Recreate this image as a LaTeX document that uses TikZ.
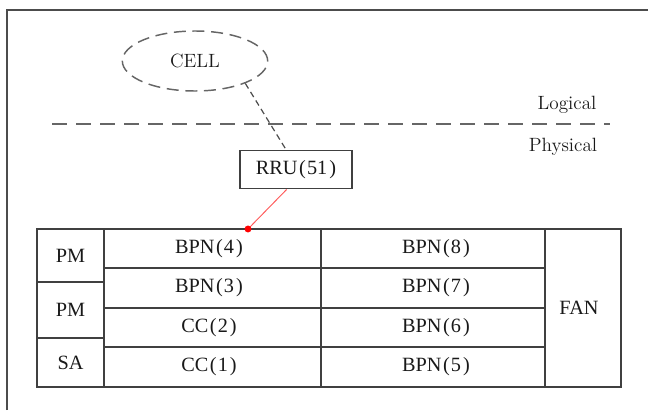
\documentclass[tikz,border=0pt]{standalone}
\usepackage{fontspec}
\newfontfamily\boxfont{Liberation Serif}
\usetikzlibrary{shapes.geometric}
\tikzset{
  frameline/.style={line width=1.1pt, color=black!70},
  gridline/.style={line width=0.9pt, color=black!75},
  celltext/.style={font=\boxfont\fontsize{15.2}{18}\selectfont, text=black!90},
  layertext/.style={font=\Large, text=black!90},
  linkdash/.style={dash pattern=on 4.5pt off 3pt, line width=0.9pt, color=black!70}
}
\newcommand{\unitname}[2]{#1\kern0.08em(\kern0.05em#2\kern0.1em)}

\begin{document}
\begin{tikzpicture}[x=0.75pt,y=-0.75pt]
		%%%%% START %%%%%
		\useasboundingbox (0,0) rectangle (648,410);
		\draw[frameline] (7,410) -- (7,10) -- (648,10);
		
		\node[ellipse, draw, dash pattern=on 9pt off 5pt, line width=1.1pt, color=black!60,
		      text=black!90, font=\Large, minimum width=109pt, minimum height=45pt] (cell) at (195,61) {CELL};
		
		\draw[dash pattern=on 11pt off 7pt, line width=1.3pt, color=black!60] (52,124) -- (610,124);
		\node[layertext] (logical) at (567,105) {Logical};
		\node[layertext] (physical) at (563,147) {Physical};
		
		\node[draw, rectangle, line width=0.9pt, color=black!75, celltext,
		      minimum width=84pt, minimum height=29pt] (rru) at (296,169.5) {\unitname{RRU}{51}};
		\coordinate (tap) at (248,229);
		
		\draw[linkdash] (cell.-24) -- ([xshift=-7.5pt]rru.north);
		
		%% shelf
		\draw[gridline] (37,229) rectangle (621,387);
		\draw[gridline] (104,229) -- (104,387);
		\draw[gridline] (321,229) -- (321,387);
		\draw[gridline] (545,229) -- (545,387);
		\foreach \y in {268,308,347}
			\draw[gridline] (104,\y) -- (545,\y);
		\draw[gridline] (37,282) -- (104,282);
		\draw[gridline] (37,338) -- (104,338);
		
		\node[celltext] (pm1) at (70.5,255.5) {PM};
		\node[celltext] (pm2) at (70.5,310) {PM};
		\node[celltext] (sa) at (70.5,362.5) {SA};
		
		\node[celltext] (bpn4) at (209,248.5) {\unitname{BPN}{4}};
		\node[celltext] (bpn3) at (209,288) {\unitname{BPN}{3}};
		\node[celltext] (cc2) at (209,327.5) {\unitname{CC}{2}};
		\node[celltext] (cc1) at (209,367) {\unitname{CC}{1}};
		
		\node[celltext] (bpn8) at (436,248.5) {\unitname{BPN}{8}};
		\node[celltext] (bpn7) at (436,288) {\unitname{BPN}{7}};
		\node[celltext] (bpn6) at (436,327.5) {\unitname{BPN}{6}};
		\node[celltext] (bpn5) at (436,367) {\unitname{BPN}{5}};
		
		\node[celltext] (fan) at (579,308) {FAN};
		
		\draw[red!65, line width=0.7pt] ([xshift=-7pt]rru.south) -- (tap);
		\fill[red] (tap) circle (2.6pt);
		%%%%% END %%%%%
\end{tikzpicture}
\end{document}
